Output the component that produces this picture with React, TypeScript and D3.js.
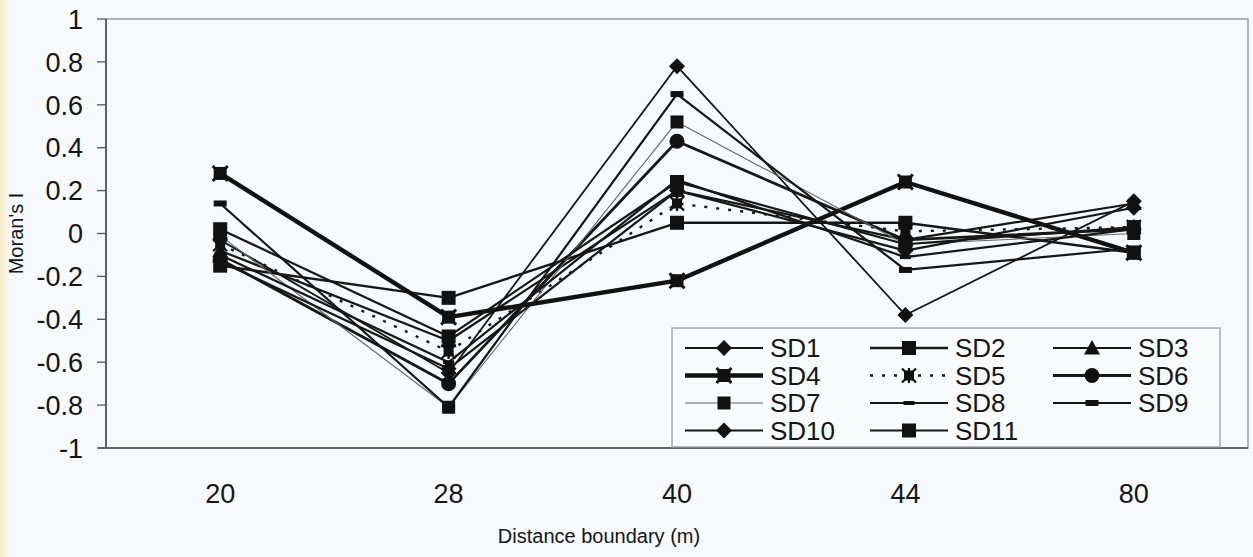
import React from 'react';
import * as d3 from 'd3';

// Distance classes (m) on the category axis
const categories = ['20', '28', '40', '44', '80'];

// Moran's I per sampling design at each distance boundary
const sd1 = [-0.03, -0.65, 0.78, -0.38, 0.15];
const sd2 = [-0.15, -0.3, 0.05, 0.05, -0.09];
const sd3 = [-0.08, -0.5, 0.2, -0.03, 0.14];
const sd4 = [0.28, -0.39, -0.22, 0.24, -0.09];
const sd5 = [-0.05, -0.55, 0.14, 0.01, 0.03];
const sd6 = [-0.12, -0.7, 0.43, -0.03, 0.02];
const sd7 = [-0.01, -0.81, 0.52, -0.05, 0.0];
const sd8 = [-0.1, -0.6, 0.25, -0.11, 0.02];
const sd9 = [0.14, -0.81, 0.65, -0.17, -0.07];
const sd10 = [-0.13, -0.63, 0.2, -0.08, 0.12];
const sd11 = [0.02, -0.48, 0.24, -0.05, 0.03];

const seriesNames = ['SD1', 'SD2', 'SD3', 'SD4', 'SD5', 'SD6', 'SD7', 'SD8', 'SD9', 'SD10', 'SD11'];
const seriesValues = [sd1, sd2, sd3, sd4, sd5, sd6, sd7, sd8, sd9, sd10, sd11];

const yTicks = [-1, -0.8, -0.6, -0.4, -0.2, 0, 0.2, 0.4, 0.6, 0.8, 1];

type Marker = 'diamond' | 'square' | 'triangle' | 'starSquare' | 'asterisk' | 'circle' | 'smallSquare' | 'tinyDash' | 'dash';
interface Style { width: number; dash?: string; color: string; marker: Marker }

const styles: Style[] = [
  { width: 1.8, color: '#161616', marker: 'diamond' },
  { width: 2.4, color: '#161616', marker: 'square' },
  { width: 2.2, color: '#161616', marker: 'triangle' },
  { width: 4.4, color: '#111', marker: 'starSquare' },
  { width: 2.4, dash: '3 9', color: '#161616', marker: 'asterisk' },
  { width: 2.8, color: '#161616', marker: 'circle' },
  { width: 1.1, color: '#666', marker: 'smallSquare' },
  { width: 2.2, color: '#161616', marker: 'tinyDash' },
  { width: 2.2, color: '#161616', marker: 'dash' },
  { width: 2.2, color: '#161616', marker: 'diamond' },
  { width: 2.2, color: '#161616', marker: 'square' },
];

const W = 1253;
const H = 557;
const plot = { left: 106, right: 1248, top: 19, bottom: 448 };
const FONT = "'Liberation Sans', Arial, Helvetica, sans-serif";
const TEXT = '#151515';

const x = d3.scaleBand<string>().domain(categories).range([plot.left, plot.right]);
const cx = (c: string) => (x(c) as number) + x.bandwidth() / 2;
const y = d3.scaleLinear().domain([-1, 1]).range([plot.bottom, plot.top]);

function MarkerShape({ kind, px, py }: { kind: Marker; px: number; py: number }) {
  const fill = '#111';
  switch (kind) {
    case 'diamond':
      return <path d={`M${px},${py - 8}L${px + 8},${py}L${px},${py + 8}L${px - 8},${py}Z`} fill={fill} />;
    case 'square':
      return <rect x={px - 7} y={py - 7} width={14} height={14} fill={fill} />;
    case 'smallSquare':
      return <rect x={px - 6.5} y={py - 6.5} width={13} height={13} fill={fill} />;
    case 'triangle':
      return <path d={`M${px},${py - 8}L${px + 8},${py + 6.5}L${px - 8},${py + 6.5}Z`} fill={fill} />;
    case 'circle':
      return <circle cx={px} cy={py} r={7.5} fill={fill} />;
    case 'starSquare':
      return (
        <g>
          <rect x={px - 6.5} y={py - 6.5} width={13} height={13} fill={fill} />
          <path d={`M${px - 7.5},${py - 7.5}L${px + 7.5},${py + 7.5}M${px + 7.5},${py - 7.5}L${px - 7.5},${py + 7.5}`} stroke={fill} strokeWidth={3} />
        </g>
      );
    case 'asterisk':
      return (
        <g>
          <rect x={px - 5} y={py - 5} width={10} height={10} fill={fill} />
          <path d={`M${px - 7},${py - 7}L${px + 7},${py + 7}M${px + 7},${py - 7}L${px - 7},${py + 7}M${px},${py - 7.5}L${px},${py + 7.5}`} stroke={fill} strokeWidth={2.2} />
        </g>
      );
    case 'tinyDash':
      return <rect x={px - 5.5} y={py - 2} width={11} height={4} fill={fill} />;
    case 'dash':
      return <rect x={px - 6.5} y={py - 3} width={13} height={6} fill={fill} />;
    default:
      return null;
  }
}

export default function App() {
  const line = d3
    .line<number>()
    .x((_, i) => cx(categories[i]))
    .y((d) => y(d));

  const legendCols = [685, 870, 1053];
  const legendRows = [348, 375.5, 403, 430.5];

  return (
    <svg
      width={W}
      height={H}
      viewBox={`0 0 ${W} ${H}`}
      style={{ position: 'absolute', left: 0, top: 0, display: 'block' }}
      fontFamily={FONT}
    >
      <defs>
        <linearGradient id="edge" x1="0" x2="1" y1="0" y2="0">
          <stop offset="0" stopColor="#f6eec8" />
          <stop offset="1" stopColor="#f6fafc" />
        </linearGradient>
      </defs>
      <rect x={0} y={0} width={W} height={H} fill="#f6fafc" />
      <rect x={0} y={0} width={10} height={H} fill="url(#edge)" />

      {/* plot frame */}
      <rect
        x={plot.left}
        y={plot.top}
        width={plot.right - plot.left}
        height={plot.bottom - plot.top}
        fill="none"
        stroke="#8d9aa0"
        strokeWidth={1.4}
      />
      <line x1={plot.left} x2={plot.left} y1={plot.top} y2={plot.bottom} stroke="#4d4d4d" strokeWidth={1.6} />
      <line x1={plot.left - 8} x2={plot.right} y1={plot.bottom} y2={plot.bottom} stroke="#4d4d4d" strokeWidth={1.6} />

      {/* y axis */}
      {yTicks.map((t) => (
        <g key={t}>
          <line x1={plot.left - 9} x2={plot.left} y1={y(t)} y2={y(t)} stroke="#555" strokeWidth={1.3} />
          <text x={83} y={y(t)} dy="0.36em" textAnchor="end" fontSize={27} fill={TEXT}>
            {String(+t.toFixed(1))}
          </text>
        </g>
      ))}

      {/* x axis labels */}
      {categories.map((c) => (
        <text key={c} x={cx(c)} y={503} textAnchor="middle" fontSize={27} fill={TEXT}>
          {c}
        </text>
      ))}

      <text x={599} y={543} textAnchor="middle" fontSize={20} fill={TEXT}>
        Distance boundary (m)
      </text>
      <text
        transform={`translate(23, ${(plot.top + plot.bottom) / 2}) rotate(-90)`}
        textAnchor="middle"
        fontSize={20}
        fill={TEXT}
      >
        Moran's I
      </text>

      {/* series */}
      {seriesValues.map((vals, si) => {
        const st = styles[si];
        return (
          <g key={seriesNames[si]}>
            <path
              d={line(vals) || ''}
              fill="none"
              stroke={st.color}
              strokeWidth={st.width}
              strokeDasharray={st.dash}
              strokeLinejoin="round"
            />
            {vals.map((v, i) => (
              <MarkerShape key={i} kind={st.marker} px={cx(categories[i])} py={y(v)} />
            ))}
          </g>
        );
      })}

      {/* legend */}
      <rect x={672} y={328} width={548} height={119} fill="#f8fbfc" stroke="#8d9aa0" strokeWidth={1.2} />
      {seriesNames.map((name, i) => {
        const st = styles[i];
        const col = i % 3;
        const row = Math.floor(i / 3);
        const lx = legendCols[col];
        const ly = legendRows[row];
        return (
          <g key={name}>
            <line
              x1={lx}
              x2={lx + 78}
              y1={ly}
              y2={ly}
              stroke={st.color}
              strokeWidth={st.width}
              strokeDasharray={st.dash}
            />
            <MarkerShape kind={st.marker} px={lx + 39} py={ly} />
            <text x={lx + 85} y={ly} dy="0.36em" fontSize={26} fill={TEXT}>
              {name}
            </text>
          </g>
        );
      })}
    </svg>
  );
}
